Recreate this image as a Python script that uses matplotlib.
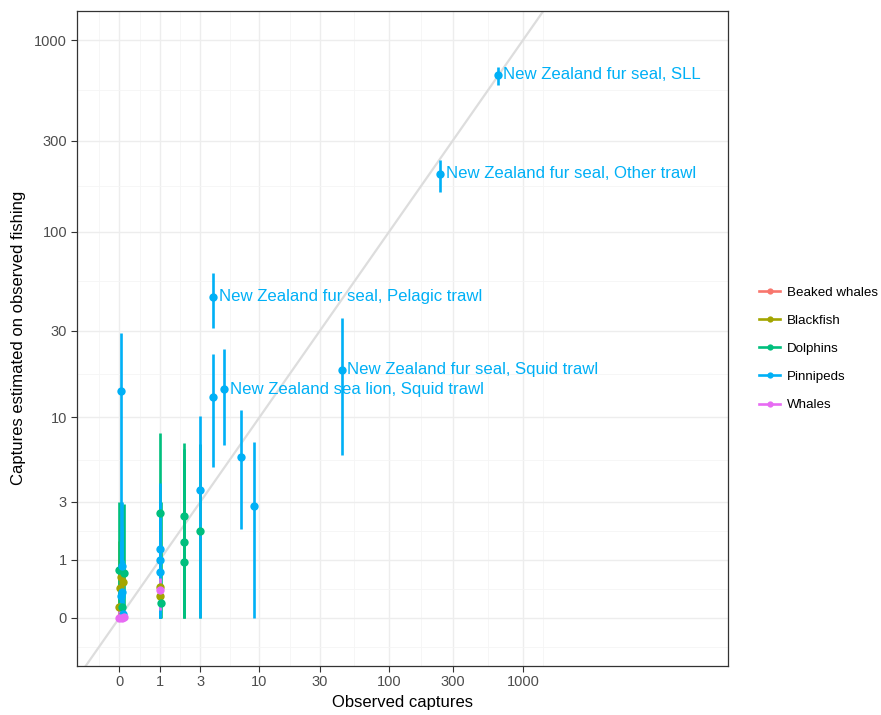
import numpy as np
import matplotlib
matplotlib.use("Agg")
import matplotlib.pyplot as plt
from matplotlib.lines import Line2D

plt.rcParams['font.family'] = ['Liberation Sans', 'DejaVu Sans']

# groups and ggplot hue colours
groups = ["Beaked whales", "Blackfish", "Dolphins", "Pinnipeds", "Whales"]
colors = ["#F8766D", "#A3A500", "#00BF7D", "#00B0F6", "#E76BF3"]

# observed captures (x), estimate (y), interval (lo, hi)
beaked_x = [0.03]
beaked_y = [0.02]
beaked_lo = [0]
beaked_hi = [0.5]

blackfish_x = [0.02, 0.06, 0.01, 0.0, 1, 1.02]
blackfish_y = [0.63, 0.54, 0.43, 0.14, 0.45, 0.29]
blackfish_lo = [0, 0, 0, 0, 0, 0]
blackfish_hi = [3.0, 2.8, 2.5, 1.5, 3.0, 2.6]

dolphins_x = [0.0, 0.08, 0.05, 1, 1.04, 2, 2, 2, 3]
dolphins_y = [0.78, 0.71, 0.14, 2.49, 0.2, 2.38, 1.48, 0.95, 1.83]
dolphins_lo = [0, 0, 0, 0, 0, 0, 0, 0, 0]
dolphins_hi = [3.0, 2.9, 1.2, 8.1, 3.0, 7.05, 6.5, 5.5, 7.0]

pinnipeds_x = [0.02, 0.04, 0.05, 0.03, 0.06, 1, 1, 1, 3, 4, 4, 5, 7, 9, 44, 241, 650]
pinnipeds_y = [14.1, 0.85, 0.36, 0.29, 0.05, 1.27, 1.0, 0.72, 3.6, 45.4, 13.1, 14.4, 5.86, 2.82, 18.4, 201, 660]
pinnipeds_lo = [0, 0, 0, 0, 0, 0, 0, 0, 0, 31, 5.1, 6.9, 1.9, 0, 6.0, 162, 584]
pinnipeds_hi = [29, 3.0, 2.0, 1.5, 1.0, 4.0, 3.0, 2.5, 10.2, 61, 22.4, 23.9, 11.0, 7.2, 35, 237, 724]
pinnipeds_label = ["", "", "", "", "", "", "", "", "", "New Zealand fur seal, Pelagic trawl", "",
                   "New Zealand sea lion, Squid trawl", "", "", "New Zealand fur seal, Squid trawl",
                   "New Zealand fur seal, Other trawl", "New Zealand fur seal, SLL"]

whales_x = [0.0, 0.05, 0.08, 1]
whales_y = [0.0, 0.0, 0.01, 0.39]
whales_lo = [0, 0, 0, 0.1]
whales_hi = [0.1, 0.05, 0.15, 0.6]

data = {
    "Beaked whales": (beaked_x, beaked_y, beaked_lo, beaked_hi),
    "Blackfish": (blackfish_x, blackfish_y, blackfish_lo, blackfish_hi),
    "Dolphins": (dolphins_x, dolphins_y, dolphins_lo, dolphins_hi),
    "Pinnipeds": (pinnipeds_x, pinnipeds_y, pinnipeds_lo, pinnipeds_hi),
    "Whales": (whales_x, whales_y, whales_lo, whales_hi),
}

breaks = [0, 1, 3, 10, 30, 100, 300, 1000]


def fwd(v):
    v = np.asarray(v, dtype=float)
    return np.log10(np.clip(v + 1, 1e-9, None))


def inv(t):
    return 10 ** np.asarray(t, dtype=float) - 1


# minor breaks like ggplot: midpoints between majors in transformed space
tb = list(fwd(breaks))
step = tb[1] - tb[0]
tb = [tb[0] - step] + tb + [tb[-1] + step]
minor = inv([(a + b) / 2 for a, b in zip(tb[:-1], tb[1:])])

fig = plt.figure(figsize=(8.81, 7.15), dpi=100)
ax = fig.add_axes([0.0871, 0.069, 0.739, 0.916])
ax.set_xscale('function', functions=(fwd, inv))
ax.set_yscale('function', functions=(fwd, inv))
ax.set_xlim(-0.518, 33340)
ax.set_ylim(-0.436, 1422)

ax.set_xticks(breaks)
ax.set_xticklabels([str(b) for b in breaks])
ax.set_yticks(breaks)
ax.set_yticklabels([str(b) for b in breaks])
ax.set_xticks(minor, minor=True)
ax.set_yticks(minor, minor=True)
ax.tick_params(which='minor', length=0)
ax.tick_params(which='major', length=4, width=0.8, color='#333333',
               labelsize=10.5, labelcolor='#4D4D4D', pad=3)
ax.grid(which='major', color='#EDEDED', lw=1.0, zorder=0)
ax.grid(which='minor', color='#F5F5F5', lw=0.6, zorder=0)
ax.set_axisbelow(True)
for s in ax.spines.values():
    s.set_color('#333333')
    s.set_linewidth(0.9)

# identity line
ax.plot([-0.5, 30000], [-0.5, 30000], color='#DDDDDD', lw=1.6, zorder=1)

for g, c in zip(groups, colors):
    x, y, lo, hi = data[g]
    ax.vlines(x, lo, hi, color=c, lw=1.9, zorder=2)
    ax.plot(x, y, 'o', color=c, ms=6, mec='none', zorder=3)

for x, y, lab in zip(pinnipeds_x, pinnipeds_y, pinnipeds_label):
    if lab:
        ax.annotate(lab, (x, y), xytext=(4, 0), textcoords='offset points',
                    ha='left', va='center', color=colors[3], fontsize=12.1, zorder=4)

ax.set_xlabel("Observed captures", fontsize=12, labelpad=4)
ax.set_ylabel("Captures estimated on observed fishing", fontsize=12, labelpad=6)

handles = [Line2D([0], [0], color=c, lw=1.9, marker='o', ms=4.5, mec='none') for c in colors]
fig.legend(handles, groups, loc='center left', bbox_to_anchor=(0.848, 0.512),
           frameon=False, fontsize=9.6, handlelength=1.6, handletextpad=0.5,
           labelspacing=1.18)

fig.savefig("out.png", dpi=100)
